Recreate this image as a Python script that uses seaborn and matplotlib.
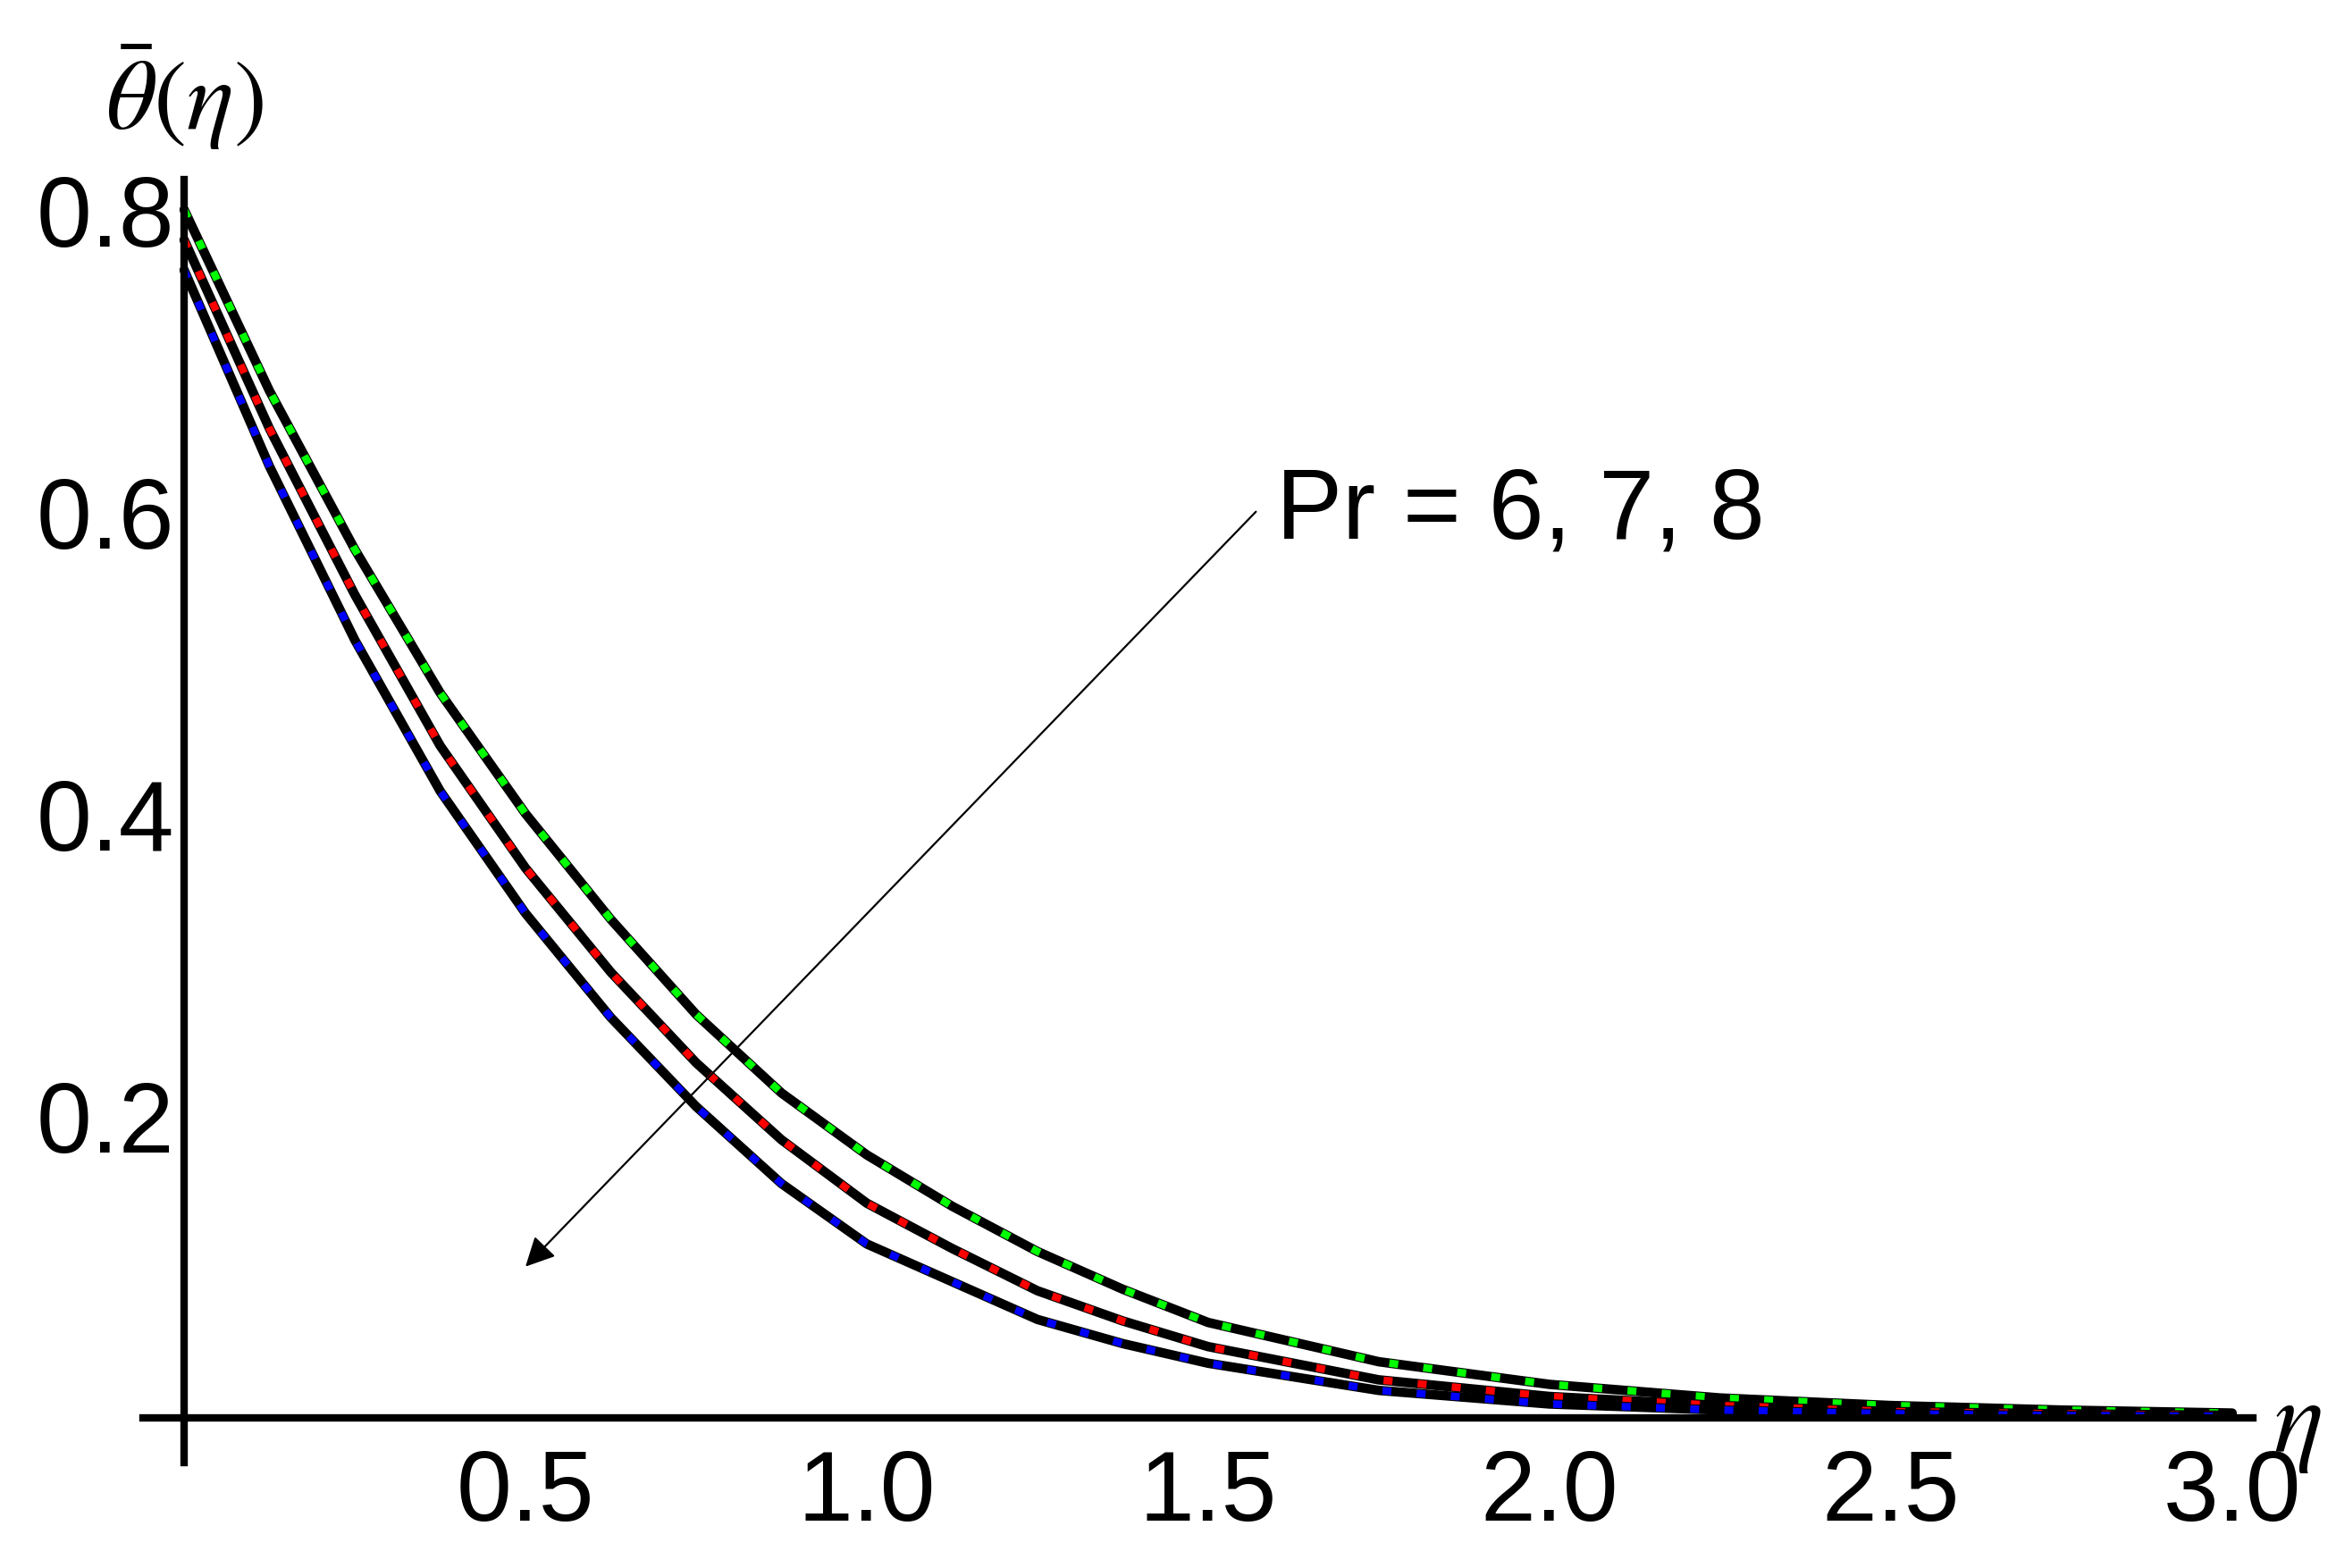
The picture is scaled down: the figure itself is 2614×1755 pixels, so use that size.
import pandas as pd
import seaborn as sns
import matplotlib.pyplot as plt

# values
eta = [0.0, 0.125, 0.25, 0.375, 0.5, 0.625, 0.75, 0.875, 1.0, 1.125, 1.25, 1.375, 1.5,
       1.75, 2.0, 2.25, 2.5, 2.75, 3.0]
theta_pr6 = [0.80, 0.68, 0.575, 0.48, 0.40, 0.33, 0.267, 0.215, 0.174, 0.14, 0.11, 0.085, 0.063,
             0.037, 0.022, 0.013, 0.008, 0.005, 0.003]
theta_pr7 = [0.78, 0.655, 0.545, 0.445, 0.364, 0.295, 0.235, 0.184, 0.142, 0.112, 0.084, 0.064, 0.047,
             0.025, 0.014, 0.008, 0.004, 0.0025, 0.0015]
theta_pr8 = [0.76, 0.63, 0.515, 0.415, 0.334, 0.265, 0.206, 0.155, 0.115, 0.09, 0.065, 0.049, 0.036,
             0.018, 0.009, 0.005, 0.0025, 0.0013, 0.0008]
colors = ["#00ff00", "#ff0000", "#0000ff"]
xticks = [0.5, 1.0, 1.5, 2.0, 2.5, 3.0]
yticks = [0.2, 0.4, 0.6, 0.8]

sns.set_style("white")
plt.rcParams['font.family'] = ['Liberation Sans', 'DejaVu Sans']
plt.rcParams['mathtext.fontset'] = 'stix'
plt.rcParams['text.color'] = 'black'

fig = plt.figure(figsize=(13.07, 8.78), dpi=200)
ax = fig.add_axes([0.0613, 0.067, 0.903, 0.818])

df = pd.DataFrame({"eta": eta, "Pr6": theta_pr6, "Pr7": theta_pr7, "Pr8": theta_pr8})
for col, c in zip(["Pr6", "Pr7", "Pr8"], colors):
    sns.lineplot(data=df, x="eta", y=col, ax=ax, color="black", lw=3.8)
    sns.lineplot(data=df, x="eta", y=col, ax=ax, color=c, lw=3.0, linestyle=(0, (1.2, 3.4)))

ax.set_xlim(-0.06, 3.03)
ax.set_ylim(-0.03, 0.82)
for s in ["top", "right"]:
    ax.spines[s].set_visible(False)
for s in ["left", "bottom"]:
    ax.spines[s].set_position(("data", 0))
    ax.spines[s].set_linewidth(3)
    ax.spines[s].set_color("black")
ax.set_xticks(xticks)
ax.set_xticklabels([f"{v:.1f}" for v in xticks])
ax.set_yticks(yticks)
ax.set_yticklabels([f"{v:.1f}" for v in yticks])
ax.tick_params(axis="both", direction="in", length=5, width=1.5, labelsize=40,
               colors="black")
ax.tick_params(axis="x", pad=12)
ax.tick_params(axis="y", pad=4)
ax.set_xlabel("")
ax.set_ylabel("")

ax.text(0.0, 0.875, r'$\bar{\theta}(\eta)$', fontsize=40, ha="center", va="center", clip_on=False)
ax.text(3.06, -0.005, r'$\eta$', fontsize=42, ha="left", va="center", clip_on=False)

ax.text(1.6, 0.6, "Pr = 6, 7, 8", fontsize=40, va="center", ha="left")
ax.annotate("", xy=(0.5, 0.1), xytext=(1.57, 0.6),
            arrowprops=dict(arrowstyle="-|>", color="black", lw=0.8,
                            mutation_scale=25, shrinkA=0, shrinkB=0))

fig.savefig("out.png", dpi=200)
